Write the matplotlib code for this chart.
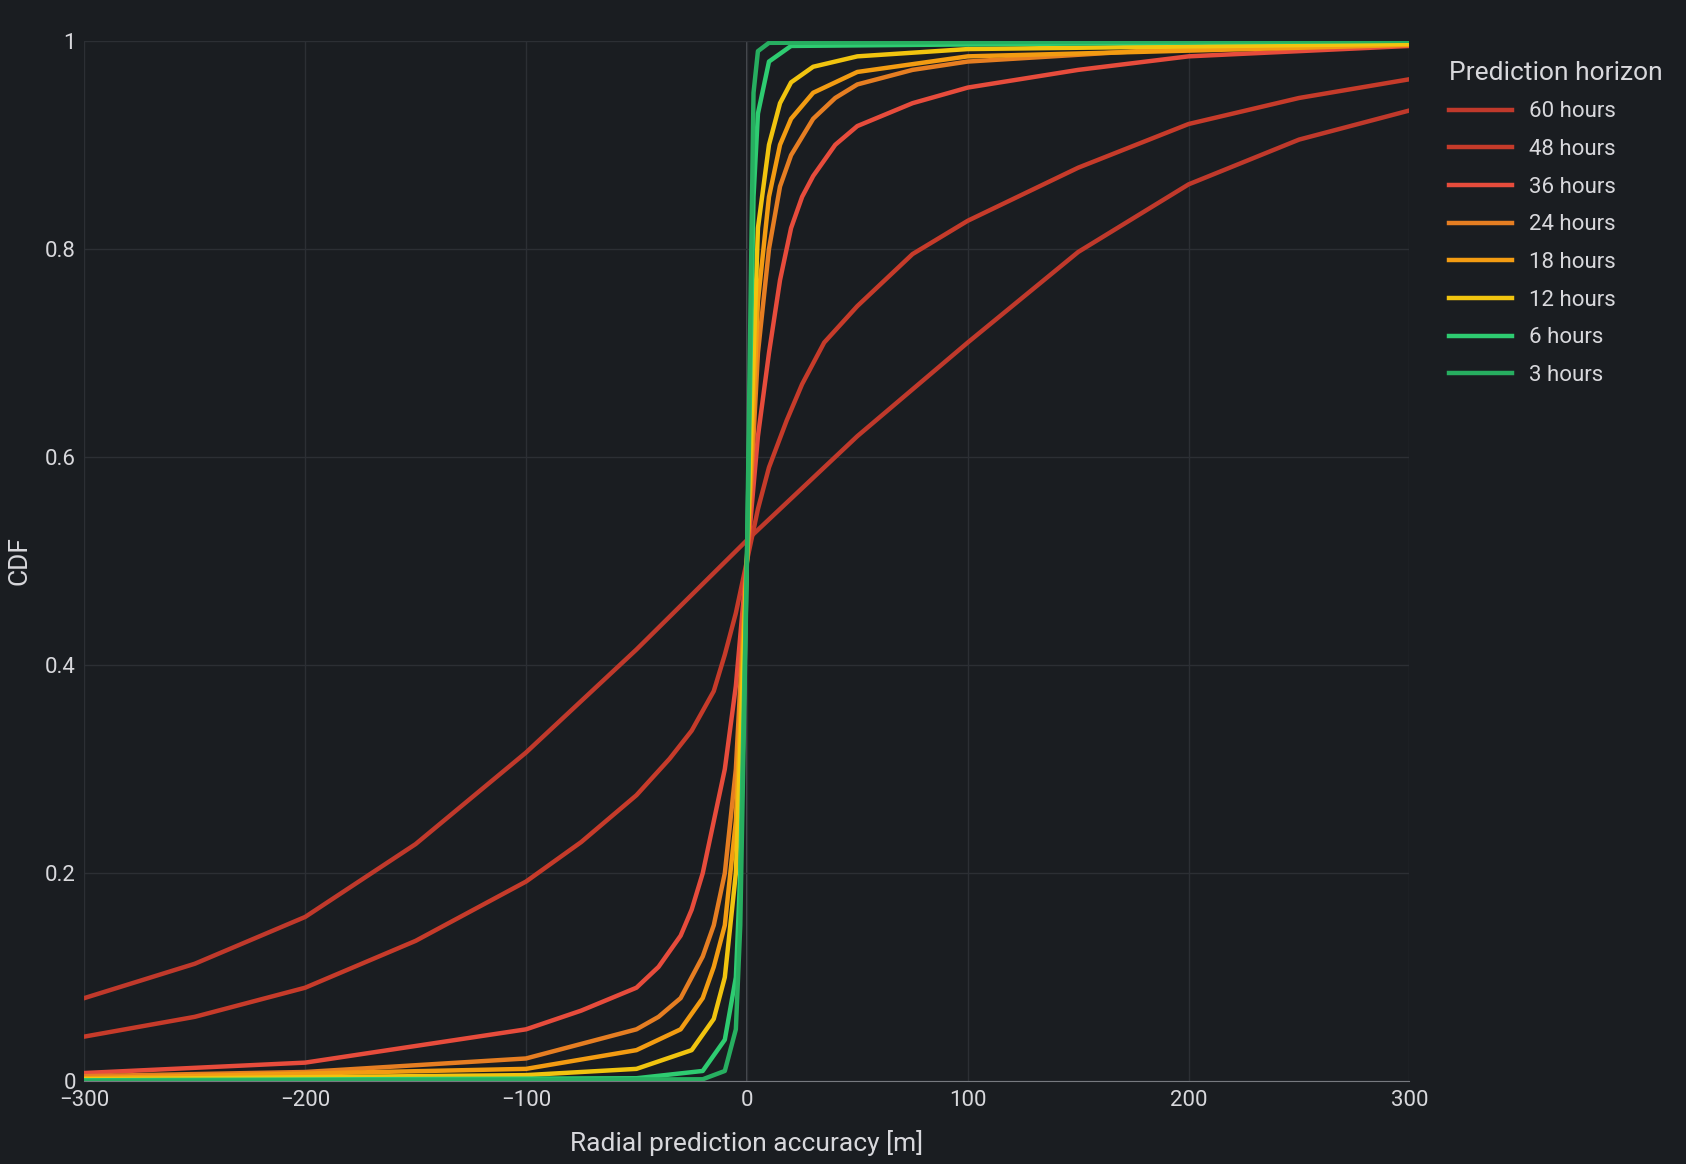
import matplotlib
matplotlib.use("Agg")
import matplotlib.pyplot as plt
from matplotlib.ticker import FuncFormatter

labels = ["60 hours", "48 hours", "36 hours", "24 hours", "18 hours", "12 hours", "6 hours", "3 hours"]
colors = ["#c0392b", "#c63b2a", "#e74c3c", "#e67e22", "#f39c12", "#f1c40f", "#2ecc71", "#27ae60"]

x60 = [-300, -250, -200, -150, -100, -50, 0, 50, 100, 150, 200, 250, 300]
y60 = [0.08, 0.113, 0.158, 0.228, 0.316, 0.415, 0.52, 0.62, 0.71, 0.797, 0.862, 0.905, 0.933]
x48 = [-300, -250, -200, -150, -100, -75, -50, -35, -25, -15, -10, -5, 0, 5, 10, 18, 25, 35, 50, 75, 100, 150, 200, 250, 300]
y48 = [0.043, 0.062, 0.09, 0.135, 0.192, 0.23, 0.275, 0.31, 0.337, 0.375, 0.41, 0.45, 0.5, 0.55, 0.59, 0.635, 0.67, 0.71, 0.745, 0.795, 0.827, 0.878, 0.92, 0.945, 0.963]
x36 = [-300, -200, -100, -75, -50, -40, -30, -25, -20, -15, -10, -5, 0, 5, 10, 15, 20, 25, 30, 40, 50, 75, 100, 150, 200, 300]
y36 = [0.008, 0.018, 0.05, 0.068, 0.09, 0.11, 0.14, 0.165, 0.2, 0.25, 0.3, 0.38, 0.5, 0.62, 0.7, 0.77, 0.82, 0.85, 0.87, 0.9, 0.918, 0.94, 0.955, 0.972, 0.985, 0.995]
x24 = [-300, -200, -100, -50, -40, -30, -20, -15, -10, -5, 0, 5, 10, 15, 20, 30, 40, 50, 75, 100, 200, 300]
y24 = [0.005, 0.009, 0.022, 0.05, 0.062, 0.08, 0.12, 0.15, 0.2, 0.3, 0.5, 0.7, 0.8, 0.86, 0.89, 0.925, 0.945, 0.958, 0.972, 0.98, 0.993, 0.997]
x18 = [-300, -100, -50, -30, -20, -15, -10, -5, 0, 5, 10, 15, 20, 30, 50, 100, 300]
y18 = [0.003, 0.012, 0.03, 0.05, 0.08, 0.11, 0.15, 0.25, 0.5, 0.75, 0.85, 0.9, 0.925, 0.95, 0.97, 0.985, 0.996]
x12 = [-300, -100, -50, -25, -15, -10, -5, 0, 5, 10, 15, 20, 30, 50, 100, 300]
y12 = [0.002, 0.006, 0.012, 0.03, 0.06, 0.1, 0.2, 0.5, 0.82, 0.9, 0.94, 0.96, 0.975, 0.985, 0.992, 0.997]
x6 = [-300, -50, -20, -10, -5, -3, 0, 3, 5, 10, 20, 300]
y6 = [0.001, 0.003, 0.01, 0.04, 0.1, 0.2, 0.5, 0.85, 0.93, 0.98, 0.995, 1.0]
x3 = [-300, -20, -10, -5, -3, 0, 3, 5, 10, 300]
y3 = [0.0005, 0.002, 0.01, 0.05, 0.15, 0.5, 0.95, 0.99, 0.998, 1.0]

series = [(x60, y60), (x48, y48), (x36, y36), (x24, y24), (x18, y18), (x12, y12), (x6, y6), (x3, y3)]

bg = "#1a1d21"
fg = "#d8d8dc"
plt.rcParams["font.family"] = ["Roboto", "DejaVu Sans"]
fig = plt.figure(figsize=(16.86, 11.64), dpi=100, facecolor=bg)
ax = fig.add_axes([0.05, 0.071, 0.786, 0.894], facecolor=bg)
for (xs, ys), c, l in zip(series, colors, labels):
    ax.plot(xs, ys, color=c, lw=3.2, label=l, solid_joinstyle="round")
ax.set_xlim(-300, 300)
ax.set_ylim(0, 1)
ax.set_xticks([-300, -200, -100, 0, 100, 200, 300])
ax.set_yticks([0, 0.2, 0.4, 0.6, 0.8, 1])
ax.yaxis.set_major_formatter(FuncFormatter(lambda v, p: "0" if v == 0 else ("1" if v == 1 else f"{v:.1f}")))
ax.xaxis.set_major_formatter(FuncFormatter(lambda v, p: f"{int(v)}".replace("-", "\u2212")))
ax.grid(color="#2c2f34", lw=1)
ax.axvline(0, color="#55585d", lw=1.2, zorder=0)
for s in ["top", "right", "left"]:
    ax.spines[s].set_visible(False)
ax.spines["bottom"].set_color("#777a80")
ax.tick_params(colors=fg, labelsize=16, length=0, pad=6)
ax.set_xlabel("Radial prediction accuracy [m]", color=fg, fontsize=19, labelpad=14)
ax.set_ylabel("CDF", color=fg, fontsize=19, labelpad=10)
leg = ax.legend(loc="upper left", bbox_to_anchor=(1.015, 1.0), frameon=False, title="Prediction horizon",
                fontsize=16, title_fontsize=19, labelcolor=fg, handlelength=2.8, labelspacing=0.75)
leg.get_title().set_color(fg)
leg._legend_box.align = "left"
fig.savefig("out.png", dpi=100, facecolor=bg)
